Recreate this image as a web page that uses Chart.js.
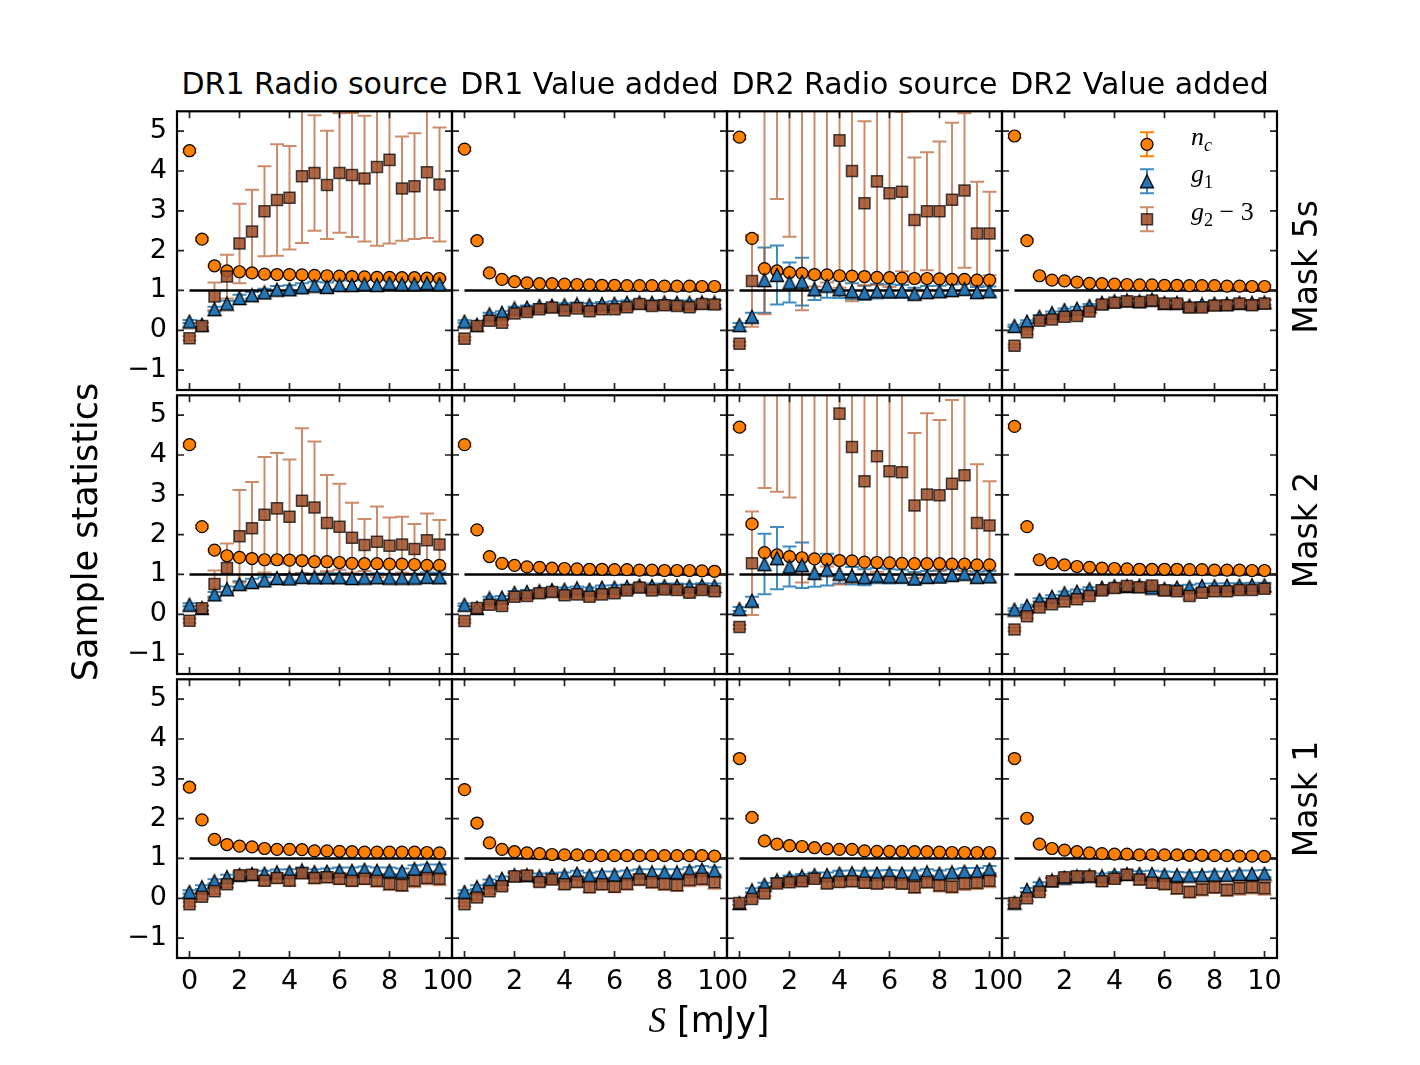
<!DOCTYPE html>
<html>
<head>
<meta charset="utf-8">
<script src="https://cdn.jsdelivr.net/npm/chart.js@4.4.0/dist/chart.umd.min.js"></script>
<style>
  body { margin: 0; background: #fff; width: 1420px; height: 1065px; position: relative; overflow: hidden; font-family: 'DejaVu Sans', sans-serif; }
  canvas { position: absolute; }
  .txt { position: absolute; white-space: nowrap; color: #000; line-height: 1; transform: translate(-50%, -50%); }
  .rot { transform: translate(-50%, -50%) rotate(-90deg); }
  .math { font-family: 'Liberation Serif', serif; font-style: italic; }
  .leg { position: absolute; white-space: nowrap; line-height: 1; transform: translateY(-50%); font-size: 26px; }
  .leg sub { font-size: 70%; vertical-align: -0.3em; }
</style>
</head>
<body>
<script>
// flux density cut S [mJy], one point every 0.5 mJy
const S = [0, 0.5, 1, 1.5, 2, 2.5, 3, 3.5, 4, 4.5, 5, 5.5, 6, 6.5, 7, 7.5, 8, 8.5, 9, 9.5, 10];
const xTicks = [0, 2, 4, 6, 8, 10];
const yTicks = [-1, 0, 1, 2, 3, 4, 5];
const columnTitles = ['DR1 Radio source', 'DR1 Value added', 'DR2 Radio source', 'DR2 Value added'];
const rowTitles = ['Mask 5s', 'Mask 2', 'Mask 1'];
const refLevel = 1;

// shared small error bars
const ncErr = [0.05, 0.04, 0.03, 0.03, 0.03, 0.03, 0.03, 0.03, 0.03, 0.03, 0.03, 0.03, 0.03, 0.03, 0.03, 0.03, 0.03, 0.03, 0.03, 0.03, 0.03];
const g1ErrLow = [0.03, 0.03, 0.04, 0.04, 0.04, 0.05, 0.05, 0.05, 0.05, 0.05, 0.05, 0.05, 0.06, 0.06, 0.06, 0.06, 0.06, 0.06, 0.06, 0.06, 0.06];
const g2ErrLow = [0.04, 0.05, 0.05, 0.06, 0.06, 0.07, 0.07, 0.07, 0.08, 0.08, 0.08, 0.08, 0.09, 0.09, 0.09, 0.09, 0.10, 0.10, 0.10, 0.10, 0.10];
const g1ErrMask1 = [0.04, 0.05, 0.05, 0.06, 0.06, 0.06, 0.07, 0.07, 0.07, 0.07, 0.07, 0.08, 0.08, 0.08, 0.08, 0.08, 0.08, 0.08, 0.09, 0.09, 0.09];
const g2ErrMask1 = [0.05, 0.06, 0.07, 0.08, 0.10, 0.11, 0.11, 0.12, 0.12, 0.13, 0.13, 0.13, 0.14, 0.14, 0.14, 0.15, 0.15, 0.15, 0.16, 0.16, 0.16];

// ---- Mask 5s ----
const m5s_dr1rs_nc = [4.51, 2.29, 1.62, 1.49, 1.47, 1.44, 1.41, 1.40, 1.40, 1.39, 1.38, 1.37, 1.36, 1.35, 1.34, 1.33, 1.33, 1.32, 1.32, 1.31, 1.30];
const m5s_dr1rs_g1 = [0.22, 0.14, 0.53, 0.67, 0.81, 0.88, 0.95, 1.02, 1.03, 1.08, 1.12, 1.09, 1.14, 1.14, 1.16, 1.14, 1.18, 1.16, 1.16, 1.18, 1.16];
const m5s_dr1rs_g1Err = [0.04, 0.05, 0.06, 0.07, 0.08, 0.08, 0.09, 0.09, 0.10, 0.10, 0.10, 0.11, 0.11, 0.11, 0.12, 0.12, 0.12, 0.12, 0.13, 0.13, 0.13];
const m5s_dr1rs_g2 = [-0.20, 0.11, 0.85, 1.35, 2.18, 2.48, 2.99, 3.27, 3.33, 3.87, 3.95, 3.65, 3.95, 3.90, 3.81, 4.10, 4.28, 3.56, 3.62, 3.97, 3.66];
const m5s_dr1rs_g2Err = [0.05, 0.08, 0.35, 0.55, 1.00, 1.05, 1.13, 1.40, 1.30, 1.68, 1.45, 1.36, 1.50, 1.56, 1.58, 1.98, 2.10, 1.31, 1.33, 1.65, 1.43];

const m5s_dr1va_nc = [4.55, 2.25, 1.44, 1.28, 1.22, 1.19, 1.17, 1.17, 1.16, 1.15, 1.14, 1.13, 1.13, 1.12, 1.12, 1.12, 1.11, 1.11, 1.11, 1.10, 1.10];
const m5s_dr1va_g1 = [0.22, 0.14, 0.40, 0.44, 0.55, 0.57, 0.61, 0.62, 0.63, 0.65, 0.63, 0.66, 0.67, 0.69, 0.70, 0.69, 0.70, 0.69, 0.69, 0.70, 0.70];
const m5s_dr1va_g2 = [-0.21, 0.11, 0.24, 0.19, 0.42, 0.46, 0.53, 0.57, 0.50, 0.55, 0.48, 0.53, 0.53, 0.58, 0.66, 0.61, 0.63, 0.61, 0.58, 0.66, 0.65];

const m5s_dr2rs_nc = [4.85, 2.31, 1.55, 1.49, 1.45, 1.43, 1.40, 1.39, 1.37, 1.36, 1.35, 1.33, 1.32, 1.31, 1.30, 1.30, 1.29, 1.28, 1.28, 1.26, 1.26];
const m5s_dr2rs_g1 = [0.13, 0.34, 1.26, 1.39, 1.20, 1.22, 1.03, 1.12, 1.03, 0.98, 0.94, 0.98, 0.98, 0.98, 0.92, 0.96, 0.98, 1.01, 1.04, 0.96, 0.98];
const m5s_dr2rs_g1Err = [0.05, 0.10, 0.82, 0.74, 0.50, 0.60, 0.27, 0.30, 0.22, 0.20, 0.18, 0.18, 0.17, 0.16, 0.15, 0.15, 0.14, 0.14, 0.13, 0.13, 0.12];
const m5s_dr2rs_g2 = [-0.34, 1.24, 6.0, 8.0, 7.0, 6.5, 7.0, 7.0, 4.77, 4.00, 3.19, 3.74, 3.44, 3.48, 2.77, 2.99, 2.99, 3.28, 3.51, 2.43, 2.43];
const m5s_dr2rs_g2Err = [0.05, 1.15, 5.6, 4.7, 4.65, 6.0, 5.9, 5.8, 3.7, 3.27, 2.06, 2.6, 2.35, 2.0, 1.57, 1.48, 1.75, 1.93, 1.94, 1.30, 1.05];

const m5s_dr2va_nc = [4.88, 2.25, 1.37, 1.26, 1.24, 1.21, 1.18, 1.17, 1.16, 1.15, 1.14, 1.14, 1.13, 1.13, 1.12, 1.12, 1.12, 1.11, 1.11, 1.10, 1.10];
const m5s_dr2va_g1 = [0.11, 0.22, 0.34, 0.43, 0.51, 0.54, 0.61, 0.69, 0.73, 0.75, 0.73, 0.77, 0.69, 0.69, 0.62, 0.65, 0.67, 0.67, 0.69, 0.69, 0.70];
const m5s_dr2va_g2 = [-0.39, -0.05, 0.24, 0.27, 0.34, 0.36, 0.47, 0.65, 0.69, 0.73, 0.71, 0.75, 0.67, 0.67, 0.57, 0.57, 0.62, 0.63, 0.67, 0.63, 0.67];

// ---- Mask 2 ----
const m2_dr1rs_nc = [4.26, 2.20, 1.61, 1.47, 1.43, 1.40, 1.37, 1.37, 1.36, 1.35, 1.32, 1.32, 1.30, 1.28, 1.27, 1.27, 1.26, 1.26, 1.25, 1.23, 1.23];
const m2_dr1rs_g1 = [0.24, 0.16, 0.50, 0.63, 0.76, 0.81, 0.85, 0.91, 0.90, 0.94, 0.93, 0.93, 0.93, 0.91, 0.92, 0.93, 0.92, 0.92, 0.92, 0.94, 0.93];
const m2_dr1rs_g1Err = [0.04, 0.05, 0.06, 0.07, 0.07, 0.08, 0.08, 0.09, 0.09, 0.09, 0.09, 0.10, 0.10, 0.10, 0.10, 0.10, 0.10, 0.10, 0.10, 0.11, 0.11];
const m2_dr1rs_g2 = [-0.16, 0.15, 0.76, 1.16, 1.96, 2.16, 2.50, 2.66, 2.45, 2.85, 2.68, 2.29, 2.20, 1.92, 1.74, 1.82, 1.72, 1.75, 1.64, 1.86, 1.75];
const m2_dr1rs_g2Err = [0.05, 0.07, 0.34, 0.62, 1.16, 1.16, 1.45, 1.39, 1.44, 1.82, 1.66, 1.21, 1.08, 0.88, 0.65, 0.89, 0.71, 0.70, 0.63, 0.67, 0.62];

const m2_dr1va_nc = [4.26, 2.12, 1.45, 1.28, 1.23, 1.19, 1.18, 1.16, 1.15, 1.14, 1.13, 1.13, 1.12, 1.12, 1.11, 1.11, 1.10, 1.10, 1.10, 1.09, 1.08];
const m2_dr1va_g1 = [0.24, 0.16, 0.40, 0.42, 0.54, 0.56, 0.58, 0.61, 0.62, 0.65, 0.62, 0.67, 0.67, 0.69, 0.72, 0.71, 0.71, 0.71, 0.70, 0.72, 0.71];
const m2_dr1va_g2 = [-0.17, 0.16, 0.24, 0.21, 0.44, 0.46, 0.53, 0.56, 0.48, 0.50, 0.44, 0.50, 0.53, 0.60, 0.67, 0.60, 0.62, 0.61, 0.54, 0.61, 0.58];

const m2_dr2rs_nc = [4.70, 2.27, 1.55, 1.49, 1.45, 1.42, 1.39, 1.37, 1.35, 1.34, 1.31, 1.30, 1.29, 1.28, 1.27, 1.27, 1.27, 1.26, 1.26, 1.24, 1.24];
const m2_dr2rs_g1 = [0.13, 0.34, 1.26, 1.41, 1.20, 1.23, 1.04, 1.12, 1.02, 0.97, 0.93, 0.97, 0.95, 0.95, 0.90, 0.94, 0.95, 0.99, 1.02, 0.94, 0.95];
const m2_dr2rs_g1Err = [0.05, 0.10, 0.76, 0.78, 0.50, 0.57, 0.35, 0.40, 0.25, 0.22, 0.20, 0.19, 0.18, 0.17, 0.16, 0.15, 0.15, 0.14, 0.14, 0.13, 0.13];
const m2_dr2rs_g2 = [-0.32, 1.28, 8.0, 8.0, 7.5, 6.5, 7.0, 7.0, 5.04, 4.20, 3.34, 3.97, 3.59, 3.57, 2.73, 3.01, 2.99, 3.28, 3.49, 2.29, 2.23];
const m2_dr2rs_g2Err = [0.05, 1.30, 4.83, 4.92, 4.57, 5.7, 6.0, 5.8, 4.29, 3.4, 2.55, 2.9, 2.6, 2.3, 1.82, 2.04, 1.89, 2.1, 2.4, 1.48, 1.11];

const m2_dr2va_nc = [4.72, 2.20, 1.37, 1.28, 1.24, 1.20, 1.18, 1.16, 1.15, 1.14, 1.13, 1.13, 1.13, 1.13, 1.12, 1.12, 1.11, 1.11, 1.11, 1.10, 1.10];
const m2_dr2va_g1 = [0.12, 0.21, 0.36, 0.44, 0.53, 0.57, 0.63, 0.67, 0.71, 0.71, 0.72, 0.67, 0.64, 0.67, 0.68, 0.71, 0.71, 0.72, 0.72, 0.73, 0.73];
const m2_dr2va_g2 = [-0.38, -0.05, 0.17, 0.25, 0.32, 0.38, 0.46, 0.60, 0.66, 0.71, 0.68, 0.72, 0.60, 0.58, 0.46, 0.54, 0.58, 0.58, 0.61, 0.61, 0.64];

// ---- Mask 1 ----
const m1_dr1rs_nc = [2.79, 1.97, 1.48, 1.35, 1.31, 1.29, 1.25, 1.23, 1.23, 1.22, 1.19, 1.19, 1.18, 1.17, 1.16, 1.16, 1.16, 1.16, 1.16, 1.15, 1.14];
const m1_dr1rs_g1 = [0.16, 0.28, 0.43, 0.53, 0.59, 0.61, 0.62, 0.65, 0.66, 0.70, 0.66, 0.67, 0.69, 0.69, 0.72, 0.69, 0.69, 0.67, 0.74, 0.76, 0.76];
const m1_dr1rs_g2 = [-0.15, 0.04, 0.18, 0.35, 0.58, 0.59, 0.44, 0.51, 0.44, 0.63, 0.51, 0.53, 0.49, 0.44, 0.49, 0.44, 0.36, 0.33, 0.44, 0.51, 0.49];

const m1_dr1va_nc = [2.73, 1.89, 1.39, 1.23, 1.17, 1.14, 1.12, 1.10, 1.09, 1.09, 1.07, 1.07, 1.07, 1.07, 1.07, 1.07, 1.07, 1.07, 1.07, 1.07, 1.06];
const m1_dr1va_g1 = [0.16, 0.28, 0.42, 0.49, 0.58, 0.58, 0.55, 0.57, 0.58, 0.62, 0.57, 0.59, 0.59, 0.62, 0.65, 0.65, 0.65, 0.65, 0.69, 0.72, 0.69];
const m1_dr1va_g2 = [-0.15, 0.02, 0.18, 0.30, 0.55, 0.57, 0.41, 0.47, 0.35, 0.41, 0.28, 0.35, 0.29, 0.36, 0.47, 0.41, 0.36, 0.33, 0.46, 0.49, 0.40];

const m1_dr2rs_nc = [3.51, 2.03, 1.44, 1.36, 1.32, 1.30, 1.27, 1.24, 1.23, 1.23, 1.19, 1.18, 1.18, 1.18, 1.17, 1.17, 1.16, 1.15, 1.15, 1.15, 1.15];
const m1_dr2rs_g1 = [-0.12, 0.20, 0.34, 0.45, 0.51, 0.55, 0.58, 0.58, 0.62, 0.63, 0.62, 0.62, 0.63, 0.62, 0.62, 0.65, 0.62, 0.65, 0.67, 0.67, 0.72];
const m1_dr2rs_g2 = [-0.12, -0.02, 0.12, 0.37, 0.40, 0.43, 0.49, 0.37, 0.41, 0.43, 0.39, 0.37, 0.41, 0.37, 0.28, 0.41, 0.32, 0.29, 0.37, 0.39, 0.44];

const m1_dr2va_nc = [3.51, 2.01, 1.36, 1.25, 1.21, 1.17, 1.14, 1.12, 1.11, 1.11, 1.09, 1.09, 1.09, 1.09, 1.08, 1.08, 1.07, 1.07, 1.06, 1.06, 1.05];
const m1_dr2va_g1 = [-0.11, 0.21, 0.35, 0.45, 0.52, 0.55, 0.57, 0.55, 0.59, 0.61, 0.61, 0.61, 0.59, 0.58, 0.57, 0.58, 0.59, 0.59, 0.61, 0.61, 0.62];
const m1_dr2va_g2 = [-0.12, 0.00, 0.16, 0.43, 0.53, 0.55, 0.55, 0.43, 0.49, 0.59, 0.47, 0.39, 0.36, 0.25, 0.16, 0.22, 0.28, 0.21, 0.25, 0.28, 0.25];

// panel grid, row by row
const panels = [
  [
    { nc: m5s_dr1rs_nc, g1: m5s_dr1rs_g1, g1Err: m5s_dr1rs_g1Err, g2: m5s_dr1rs_g2, g2Err: m5s_dr1rs_g2Err },
    { nc: m5s_dr1va_nc, g1: m5s_dr1va_g1, g1Err: g1ErrLow, g2: m5s_dr1va_g2, g2Err: g2ErrLow },
    { nc: m5s_dr2rs_nc, g1: m5s_dr2rs_g1, g1Err: m5s_dr2rs_g1Err, g2: m5s_dr2rs_g2, g2Err: m5s_dr2rs_g2Err },
    { nc: m5s_dr2va_nc, g1: m5s_dr2va_g1, g1Err: g1ErrLow, g2: m5s_dr2va_g2, g2Err: g2ErrLow, legend: true }
  ],
  [
    { nc: m2_dr1rs_nc, g1: m2_dr1rs_g1, g1Err: m2_dr1rs_g1Err, g2: m2_dr1rs_g2, g2Err: m2_dr1rs_g2Err },
    { nc: m2_dr1va_nc, g1: m2_dr1va_g1, g1Err: g1ErrLow, g2: m2_dr1va_g2, g2Err: g2ErrLow },
    { nc: m2_dr2rs_nc, g1: m2_dr2rs_g1, g1Err: m2_dr2rs_g1Err, g2: m2_dr2rs_g2, g2Err: m2_dr2rs_g2Err },
    { nc: m2_dr2va_nc, g1: m2_dr2va_g1, g1Err: g1ErrLow, g2: m2_dr2va_g2, g2Err: g2ErrLow }
  ],
  [
    { nc: m1_dr1rs_nc, g1: m1_dr1rs_g1, g1Err: g1ErrMask1, g2: m1_dr1rs_g2, g2Err: g2ErrMask1 },
    { nc: m1_dr1va_nc, g1: m1_dr1va_g1, g1Err: g1ErrMask1, g2: m1_dr1va_g2, g2Err: g2ErrMask1 },
    { nc: m1_dr2rs_nc, g1: m1_dr2rs_g1, g1Err: g1ErrMask1, g2: m1_dr2rs_g2, g2Err: g2ErrMask1 },
    { nc: m1_dr2va_nc, g1: m1_dr2va_g1, g1Err: g1ErrMask1, g2: m1_dr2va_g2, g2Err: g2ErrMask1 }
  ]
];

// figure layout (pixels)
const gridLeft = 177, gridTop = 106, panelW = 275, panelH = 284;
const padL = 70, padB = 50, padR = 24, padT = 4;
const capHalf = 7;

const orange = '#ff8000';
const blue = '#2677b7';
const brownFill = 'rgba(160,82,45,0.88)';
const brownEdge = 'rgba(0,0,0,0.7)';
const brownBar = 'rgba(180,85,35,0.68)';
const blueBar = 'rgba(31,119,180,0.85)';

// matplotlib style '^' marker
function triangleMarker() {
  const c = document.createElement('canvas');
  c.width = 16; c.height = 16;
  const g = c.getContext('2d');
  g.beginPath();
  g.moveTo(8, 1.5); g.lineTo(14.5, 14.5); g.lineTo(1.5, 14.5); g.closePath();
  g.fillStyle = blue; g.fill();
  g.lineWidth = 1.3; g.strokeStyle = '#000'; g.stroke();
  return c;
}
const triImg = triangleMarker();

function pts(vals) { return vals.map((v, i) => ({ x: S[i], y: v })); }

function drawBar(ctx, px, lo, hi) {
  ctx.moveTo(px, lo); ctx.lineTo(px, hi);
  ctx.moveTo(px - capHalf, lo); ctx.lineTo(px + capHalf, lo);
  ctx.moveTo(px - capHalf, hi); ctx.lineTo(px + capHalf, hi);
}

const errorBars = {
  id: 'errorBars',
  beforeDatasetsDraw(chart) {
    const { ctx, chartArea: a, scales: { x, y } } = chart;
    ctx.save();
    ctx.beginPath();
    ctx.rect(a.left, a.top, a.right - a.left, a.bottom - a.top);
    ctx.clip();
    chart.data.datasets.forEach(ds => {
      if (!ds.err) return;
      ctx.strokeStyle = ds.errColor;
      ctx.lineWidth = 2;
      ctx.beginPath();
      ds.data.forEach((p, i) => {
        drawBar(ctx, x.getPixelForValue(p.x), y.getPixelForValue(p.y - ds.err[i]), y.getPixelForValue(p.y + ds.err[i]));
      });
      ctx.stroke();
    });
    ctx.restore();
  }
};

const mplFrame = {
  id: 'mplFrame',
  afterDraw(chart) {
    const { ctx, chartArea: a, scales: { x, y } } = chart;
    ctx.save();
    ctx.strokeStyle = '#222';
    ctx.lineWidth = 1.7;
    ctx.beginPath();
    xTicks.forEach(v => {
      const px = x.getPixelForValue(v);
      ctx.moveTo(px, a.bottom); ctx.lineTo(px, a.bottom - 7);
      ctx.moveTo(px, a.top); ctx.lineTo(px, a.top + 7);
    });
    yTicks.forEach(v => {
      const py = y.getPixelForValue(v);
      ctx.moveTo(a.left, py); ctx.lineTo(a.left + 7, py);
      ctx.moveTo(a.right, py); ctx.lineTo(a.right - 7, py);
    });
    ctx.stroke();
    ctx.strokeStyle = '#000';
    ctx.lineWidth = 2.2;
    ctx.strokeRect(a.left, a.top, a.right - a.left, a.bottom - a.top);

    if (chart.options.plugins.mplFrame && chart.options.plugins.mplFrame.legend) {
      const lx = a.left + 145;
      const rows = [a.top + 33, a.top + 70, a.top + 108];
      ctx.lineWidth = 2;
      [orange, blueBar, brownBar].forEach((col, k) => {
        ctx.strokeStyle = col;
        ctx.beginPath();
        drawBar(ctx, lx, rows[k] + 12, rows[k] - 12);
        ctx.stroke();
      });
      ctx.lineWidth = 1.2;
      ctx.strokeStyle = '#000';
      ctx.fillStyle = orange;
      ctx.beginPath(); ctx.arc(lx, rows[0], 6, 0, Math.PI * 2); ctx.fill(); ctx.stroke();
      ctx.drawImage(triImg, lx - 8, rows[1] - 8);
      ctx.fillStyle = brownFill;
      ctx.strokeStyle = brownEdge;
      ctx.lineWidth = 1.5;
      ctx.fillRect(lx - 5.5, rows[2] - 5.5, 11, 11);
      ctx.strokeRect(lx - 5.5, rows[2] - 5.5, 11, 11);
    }
    ctx.restore();
  }
};

const fmt = v => (v < 0 ? '\u2212' + (-v) : String(v));

panels.forEach((row, r) => {
  row.forEach((p, c) => {
    const cv = document.createElement('canvas');
    const w = padL + panelW + padR, h = padT + panelH + padB;
    cv.width = w; cv.height = h;
    cv.style.width = w + 'px'; cv.style.height = h + 'px';
    cv.style.left = (gridLeft + c * panelW - padL) + 'px';
    cv.style.top = (gridTop + r * panelH - padT) + 'px';
    document.body.appendChild(cv);

    new Chart(cv.getContext('2d'), {
      type: 'scatter',
      data: {
        datasets: [
          { data: [{ x: 0, y: refLevel }, { x: 10.5, y: refLevel }], showLine: true, borderColor: '#000', borderWidth: 2.6, pointRadius: 0, order: 4 },
          { data: pts(p.nc), err: ncErr, errColor: orange, pointStyle: 'circle', pointRadius: 6, backgroundColor: orange, borderColor: '#000', borderWidth: 1.2, order: 3 },
          { data: pts(p.g1), err: p.g1Err, errColor: blueBar, pointStyle: triImg, pointRadius: 6, order: 2 },
          { data: pts(p.g2), err: p.g2Err, errColor: brownBar, pointStyle: 'rect', pointRadius: 7.8, backgroundColor: brownFill, borderColor: brownEdge, borderWidth: 1.5, order: 1 }
        ]
      },
      options: {
        responsive: false,
        animation: false,
        events: [],
        clip: 0,
        layout: { padding: { top: padT, right: padR, left: 0, bottom: 0 } },
        plugins: { legend: { display: false }, tooltip: { enabled: false }, mplFrame: { legend: !!p.legend } },
        scales: {
          x: {
            type: 'linear', min: -0.5, max: 10.5,
            grid: { display: false, drawTicks: false },
            border: { display: false },
            afterBuildTicks: s => { s.ticks = xTicks.map(v => ({ value: v })); },
            afterFit: s => { s.height = padB; s.paddingLeft = 0; s.paddingRight = 0; },
            ticks: { display: r === 2, autoSkip: false, maxRotation: 0, minRotation: 0, padding: 8, color: '#000', font: { family: 'DejaVu Sans', size: 27 }, callback: fmt }
          },
          y: {
            type: 'linear', min: -1.5, max: 5.5,
            grid: { display: false, drawTicks: false },
            border: { display: false },
            afterBuildTicks: s => { s.ticks = yTicks.map(v => ({ value: v })); },
            afterFit: s => { s.width = padL; s.paddingTop = 0; s.paddingBottom = 0; },
            ticks: { display: c === 0, autoSkip: false, padding: 10, color: '#000', font: { family: 'DejaVu Sans', size: 27 }, callback: fmt }
          }
        }
      },
      plugins: [errorBars, mplFrame]
    });
  });
});

// titles and axis labels
function addText(html, x, y, size, cls) {
  const d = document.createElement('div');
  d.className = 'txt' + (cls ? ' ' + cls : '');
  d.style.left = x + 'px'; d.style.top = y + 'px'; d.style.fontSize = size + 'px';
  d.innerHTML = html;
  document.body.appendChild(d);
}
columnTitles.forEach((t, c) => addText(t, gridLeft + c * panelW + panelW / 2, 84, 30));
const rowLabelY = [267, 530, 799];
rowTitles.forEach((t, r) => addText(t, 1305, rowLabelY[r], 33, 'rot'));
addText('Sample statistics', 85, 532, 35, 'rot');
addText('<span class="math">S</span> [mJy]', 709, 1020, 35);

const legendLabels = ['<span class="math">n<sub>c</sub></span>', '<span class="math">g</span><sub>1</sub>', '<span class="math">g</span><sub>2</sub> \u2212 3'];
legendLabels.forEach((t, k) => {
  const d = document.createElement('div');
  d.className = 'leg';
  d.style.left = '1191px';
  d.style.top = (gridTop + [33, 70, 108][k]) + 'px';
  d.style.fontFamily = "'Liberation Serif', serif";
  d.innerHTML = t;
  document.body.appendChild(d);
});
</script>
</body>
</html>
